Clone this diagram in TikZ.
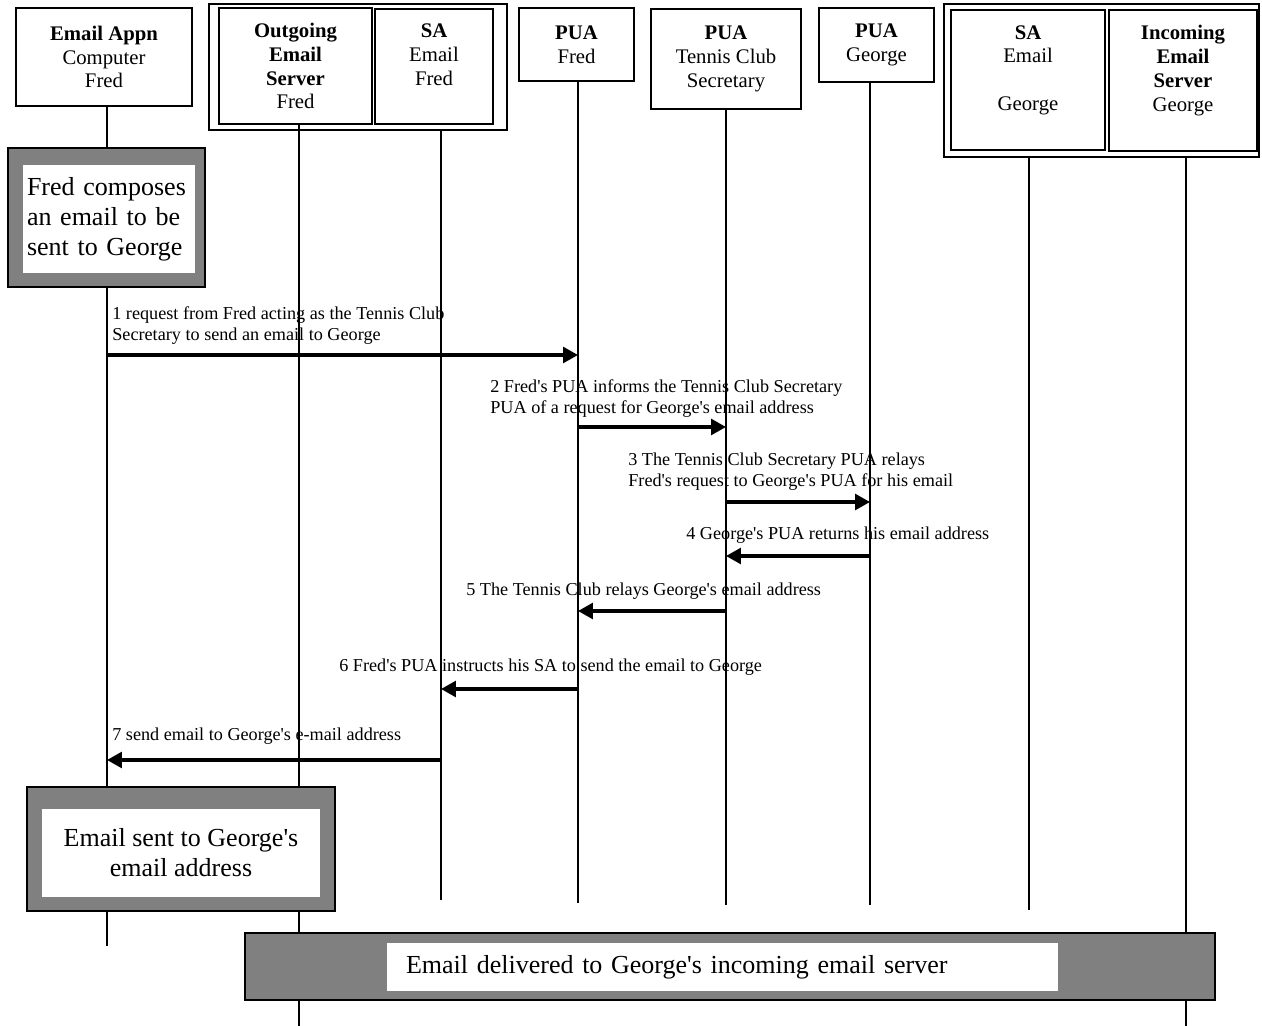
\documentclass[tikz,border=0pt]{standalone}
\usepackage{fontspec}
\setmainfont{Liberation Serif}
\usepackage{tikz}
\usetikzlibrary{calc}
\usetikzlibrary{arrows.meta}
\usetikzlibrary{positioning}
\definecolor{noteGray}{RGB}{128,128,128}
\newcommand{\hdsize}{\fontsize{11.8}{13.6}\selectfont}
\newcommand{\lblsize}{\fontsize{10.35}{11.95}\selectfont}
\newcommand{\notesize}{\fontsize{14.8}{17.07}\selectfont}
\newcommand{\sq}{\XeTeXglyph\XeTeXcharglyph"0027\relax}
\tikzstyle{head} = [rectangle, draw=black, line width=0.8pt, align=center, font=\hdsize, inner sep=0pt]
\tikzstyle{group} = [rectangle, draw=black, line width=1pt, inner sep=0pt]
\tikzstyle{life} = [-, line width=0.6pt]
\tikzstyle{msg} = [-{Triangle[length=8.5pt,width=9pt]}, line width=1.8pt]
\tikzstyle{lbl} = [anchor=north west, inner sep=0pt, align=left, font=\lblsize]
\tikzstyle{note} = [rectangle, draw=black, fill=noteGray, line width=0.8pt, inner sep=0pt]
\tikzstyle{notetxt} = [rectangle, fill=white, inner sep=0pt, font=\notesize]

\begin{document}
\begin{tikzpicture}[x=0.02cm, y=-0.02cm]
\useasboundingbox (0,0) rectangle (1262,1026);
% heads
\node [head, minimum width=3.52cm, minimum height=1.96cm] (appn) at (104,57) {\textbf{Email Appn}\\Computer\\Fred};
\node [group, minimum width=5.96cm, minimum height=2.52cm] (gOut) at (358,67) {};
\node [head, minimum width=3.06cm, minimum height=2.32cm] (srvF) at (295.5,66) {\textbf{Outgoing}\\\textbf{Email}\\\textbf{Server}\\Fred};
\node [head, minimum width=2.36cm, minimum height=2.30cm] (saF) at (434,66.5) {\textbf{SA}\\Email\\Fred\\\mbox{}};
\node [head, minimum width=2.30cm, minimum height=1.46cm] (puaF) at (576.5,44.5) {\textbf{PUA}\\Fred};
\node [head, minimum width=3.00cm, minimum height=2.00cm] (puaT) at (726,59) {\textbf{PUA}\\Tennis Club\\Secretary};
\node [head, minimum width=2.30cm, minimum height=1.48cm] (puaG) at (876.5,45) {\textbf{PUA}\\George};
\node [group, line width=1.4pt, minimum width=6.30cm, minimum height=3.06cm] (gIn) at (1101.5,80.5) {};
\node [head, minimum width=3.08cm, minimum height=2.80cm] (saG) at (1028,80) {\textbf{SA}\\Email\\\mbox{}\\George\\\mbox{}};
\node [head, line width=1.2pt, minimum width=2.96cm, minimum height=2.82cm] (srvG) at (1183,80.5) {\textbf{Incoming}\\\textbf{Email}\\\textbf{Server}\\George\\\mbox{}};

\coordinate (appnEnd) at (107,946);
\coordinate (srvFEnd) at (299,1026);
\coordinate (saFEnd) at (441,900);
\coordinate (puaFEnd) at (578,903);
\coordinate (puaTEnd) at (726,905);
\coordinate (puaGEnd) at (870,905);
\coordinate (saGEnd) at (1029,910);
\coordinate (srvGEnd) at (1186,1026);

% lifelines
\draw [life] (appn.south -| appnEnd) -- (appnEnd);
\draw [life] (srvF.south -| srvFEnd) -- (srvFEnd);
\draw [life] (gOut.south -| saFEnd) -- (saFEnd);
\draw [life] (puaF.south -| puaFEnd) -- (puaFEnd);
\draw [life] (puaT.south -| puaTEnd) -- (puaTEnd);
\draw [life] (puaG.south -| puaGEnd) -- (puaGEnd);
\draw [life] (gIn.south -| saGEnd) -- (saGEnd);
\draw [life] (gIn.south -| srvGEnd) -- (srvGEnd);

% notes
\node [note, minimum width=3.94cm, minimum height=2.78cm] (compose) at (106.5,217.5) {};
\node [notetxt, minimum width=3.44cm, minimum height=2.16cm, text width=3.28cm, align=left] (composeTxt) at (109,219) {Fred composes\\an email to be\\sent to George};
\node [note, minimum width=6.16cm, minimum height=2.48cm] (sent) at (181,849) {};
\node [notetxt, minimum width=5.56cm, minimum height=1.76cm, align=center] (sentTxt) at (181,853) {Email sent to George\sq s\\email address};
\node [note, minimum width=19.40cm, minimum height=1.34cm] (deliv) at (730,966.5) {};
\node [notetxt, minimum width=13.42cm, minimum height=0.96cm, text width=12.66cm, align=left] (delivTxt) at (722.5,967) {Email delivered to George\sq s incoming email server};

% messages
\coordinate (m1) at (0,355);
\coordinate (m2) at (0,427);
\coordinate (m3) at (0,502);
\coordinate (m4) at (0,556);
\coordinate (m5) at (0,611);
\coordinate (m6) at (0,689);
\coordinate (m7) at (0,760);
\draw [msg] (appnEnd |- m1) -- (puaFEnd |- m1);
\draw [msg] (puaFEnd |- m2) -- (puaTEnd |- m2);
\draw [msg] (puaTEnd |- m3) -- (puaGEnd |- m3);
\draw [msg] (puaGEnd |- m4) -- (puaTEnd |- m4);
\draw [msg] (puaTEnd |- m5) -- (puaFEnd |- m5);
\draw [msg] (puaFEnd |- m6) -- (saFEnd |- m6);
\draw [msg] (saFEnd |- m7) -- (appnEnd |- m7);

\node [lbl] (m1txt) at (112,306.5) {1 request from Fred acting as the Tennis Club\\Secretary to send an email to George};
\node [lbl] (m2txt) at (490,379.5) {2 Fred\sq s PUA informs the Tennis Club Secretary\\PUA of a request for George\sq s email address};
\node [lbl] (m3txt) at (628,452.5) {3 The Tennis Club Secretary PUA relays\\Fred\sq s request to George\sq s PUA for his email};
\node [lbl] (m4txt) at (686,526.5) {4 George\sq s PUA returns his email address};
\node [lbl] (m5txt) at (466,582.5) {5 The Tennis Club relays George\sq s email address};
\node [lbl] (m6txt) at (339,658.5) {6 Fred\sq s PUA instructs his SA to send the email to George};
\node [lbl] (m7txt) at (112,727.5) {7 send email to George\sq s e-mail address};
\end{tikzpicture}
\end{document}
